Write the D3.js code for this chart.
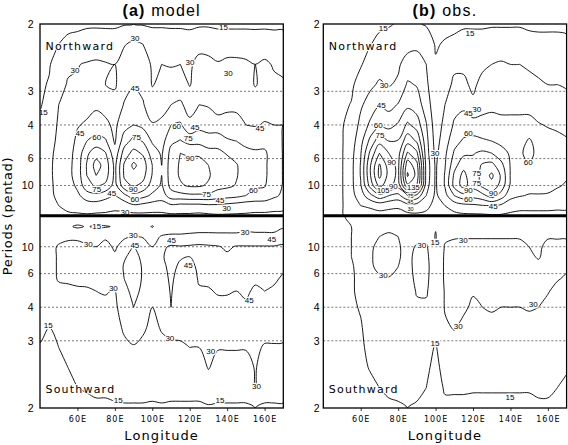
<!DOCTYPE html>
<html><head><meta charset="utf-8">
<script src="https://cdn.jsdelivr.net/npm/d3@7"></script>
<style>body{margin:0;background:#fff}svg{display:block}</style>
</head><body>
<svg id="c" width="568" height="445"></svg>
<script>
// ---------------- data ----------------
const lonCols = [40,45,50,55,60,65,70,75,80,85,90,95,100,105,110,115,120,125,130,135,140,145,150,155,160,165,170];
// frequencies (1/pentad) of grid rows, top to bottom inside each half
const fNorth = [0.5,0.45,0.4,0.35,0.3,0.25,0.21,0.18,0.15,0.125,0.1,0.075,0.05,0.025];
const fSouth = [0.025,0.05,0.075,0.1,0.125,0.15,0.18,0.21,0.25,0.3,0.35,0.4,0.45,0.5];
const levels = [15,30,45,60,75,90,105,120,135,150];
const periodTicks = [2,3,4,6,10];
const gridPeriods = [3,4,6,10];
const lonTicks = [60,80,100,120,140,160];

// one array per longitude column (values along fNorth / fSouth)
const modelNorth = [
[10,12,12,13,14,17,20,22,24,25,25,25,24,22],
[10,12,14,16,19,22,25,27,28,28,28,28,27,25],
[11,15,22,26,30,32,33,34,34,34,33,32,30,27],
[12,18,28,31,33,36,38,40,40,40,38,36,33,28],
[12,20,29.5,31,36,44,48,50,52,52,48,42,35,28],
[13,22,31,35,40,47,60,72,76,75,70,52,38,28],
[13,23,32,36,43,50,66,84,96,90,77,55,38,27],
[13,22,31,30,40,48,62,76,84,82,72,50,36,27],
[13,22,30,28,36,42,43,50,56,56,54,44,34,26],
[14,29,36,40,46,54,68,82,92,92,85,55,36,26],
[15,33,40,44,50,60,80,95,108,100,92,70,42,25],
[14,30,38,42,46,56,74,88,98,95,86,65,40,26],
[13,24,28,29,38,46,58,68,75,74,68,57,38,26],
[13,24,30,34,40,48,54,58,60,60,58,52,38,26],
[13,22,29,36,45,60,72,80,82,82,80,68,42,27],
[13,22,30,38,47,62,76,90,92,92,88,70,40,27],
[13,20,28,29,40,48,70,88,95,95,92,72,40,27],
[13,26,34,38,45,55,70,88,95,95,92,72,40,26],
[13,26,33,38,44,52,68,80,90,92,88,72,42,27],
[12,24,31,32,40,50,70,78,82,82,80,68,42,28],
[12,24,33,36,42,50,62,74,80,80,78,66,40,28],
[12,24,33,38,43,48,60,70,76,76,74,64,38,28],
[12,24,32,36,40,45,55,65,68,68,66,60,36,28],
[12,23,30,29,38,44,55,62,64,64,62,56,36,27],
[12,24,32,34,40,46,56,62,62,62,61,55,36,27],
[12,22,29,32,40,45,52,54,54,54,52,48,34,27],
[12,22,28,31,38,45,44,44,44,44,44,42,33,27]
];
const modelSouth = [
[24,24,25,26,26,27,27,26,24,18,14,12,10,9],
[25,25,26,27,27,27,26,24,20,15,12,10,9,9],
[26,22,27,31,31,31,31,27,22,17,15,11,9,9],
[26,17,28,33,35,34,32,27,24,19,16,15,12,10],
[26,13,28,33,36,35,33,28,24,20,18,17,15,11],
[27,16,27,31,36,36,34,28,25,22,20,18,16,12],
[27,13,26,30,32,32,31,30,29,24,22,20,17,13],
[27,14,28,34,36,36,34,31,27,24,22,20,17,13],
[27,16,25,28,32,38,34,29,27,25,23,20,17,14],
[26,20,28,36,44,46,45,42,38,32,27,22,18,14],
[26,24,31,45.5,48,50,50,48,45,36,29,24,18,14],
[25,22,29,38,43,44,44,43,40,32,27,22,18,14],
[25,14,26,30,34,36,36,34,30,27,24,21,17,14],
[26,22,31,42,44,42,40,38,35,31,27,22,18,14],
[26,24,32,47,48,48,47,46,45,33,28,22,17,14],
[26,24,32,46,46,43,40,38,36,34,28,22,17,14],
[26,24,33,47,45,42,40,38,36,34,30,22,17,14],
[26,24,34,48,48,47,46,44,38,35,30,22,17,14],
[26,24,34,47,48,48,47,44,40,35,33,31,20,14],
[26,25,33,46,47,48,47,46,42,36,31,24,18,14],
[26,25,33,43,47,48,48,46,42,35,31,24,18,14],
[26,25,33,46,48,48,47,45,42,35,31,24,18,14],
[26,26,34,46,48,48,47,46,44,36,31,24,18,14],
[26,26,33,46,48,48,46,44,42,36,32,31,31,15],
[26,26,33,46,48,47,45,45,38,34,29,24,18,14],
[26,26,33,46,48,47,46,44,40,34,29,24,18,14],
[26,28,38,47,48,46,44,40,36,33,29,24,18,14]
];
const obsNorth = [
[8,9,10,10,11,11,12,12,12,12,12,12,12,12],
[9,10,11,11,12,12,13,13,13,13,13,13,13,13],
[10,11,12,13,13,14,14,14,14,14,14,14,14,14],
[10,11,12,13,15.5,20,23,25,26,26,26,25,23,20],
[11,12,14,20,28,34,40,44,46,46,44,38,30,24],
[12,14.5,20,27,36,48,64,78,88,88,80,55,32,24],
[13,18,24,32,44,60,85,105,122,124,110,70,35,25],
[14,20,25,29,40,55,75,90,98,100,95,60,33,25],
[16,24,28,32,46,62,76,84,86,86,82,55,32,25],
[17,25,36,47,56,78,100,122,145,152,132,75,38,26],
[16,27,36,44,52,68,88,108,125,130,120,70,38,27],
[14,22,30,33,38,46,50,52,55,55,52,45,34,26],
[12,14,16,18,20,22,24,26,28,28,28,27,25,23],
[12,16,22,26,30,34,38,42,44,46,46,40,30,24],
[13,17,28,32,40,47,55,62,70,78,80,60,36,26],
[14,18,28,32,42,52,62,72,85,95,96,70,40,27],
[14,18,24,28,32,52,64,74,80,77,80,65,42,27],
[14,18,28,33,40,50,62,78,92,96,94,70,44,27],
[14,20,30,36,42,50,60,75,95,108,100,82,45,28],
[14,20,32,38,42,48,56,66,80,88,85,68,42,28],
[14,20,30,36,42,48,54,58,59,59,58,50,36,27],
[14,20,30,36,42,48,54,58,56,54,52,46,34,26],
[13,19,28,34,40,50,62,64,60,54,50,44,34,26],
[13,18,26,32,38,46,54,56,54,52,50,44,34,26],
[13,18,25,30,36,44,50,52,52,50,48,44,34,26],
[13,18,24,30,34,43,48,50,50,48,46,42,33,26],
[13,17,24,29,33,42,46,48,48,46,44,42,33,26]
];
const obsSouth = [
[12,11,10,10,10,10,10,10,10,10,10,9,9,9],
[13,12,11,11,11,11,11,11,11,10,10,10,9,9],
[14,13,12,12,12,12,12,12,12,12,11,11,10,10],
[17,15,15,15,15,14,14,14,13,13,12,12,11,10],
[20,18,18,18,18,18,17,17,16,14,13,13,12,11],
[22,24,27,28,28,28,26,24,22,20,18,15.5,13,11],
[24,26,30,33,35,33,28,27,24,22,20,18,15,12],
[24,27,32,35,36,35,29,27,24,22,20,19,17,13],
[25,27,30,31,31,30,27,25,23,22,21,19,17,14],
[26,26,26,27,27,26,25,24,23,22,21,20,18,15],
[26,26,27,31,33,34,33,31,28,25,22,20,17,14],
[26,25,26,32,34,35,34,32,27,22,19,17,15,12],
[22,16,14,16,18,19,19,19,18,17,14,12,11,11],
[26,26,28,31,32,32,32,31,31,28,22,19,16,13],
[27,27,29,33,35,35,35,35,33,31,24,20,16,13],
[27,28,29,34,36,36,36,35,32,27,24,20,16,13],
[27,28,29,34,36,36,36,31,28,26,23,20,16,12],
[27,28,29,34,36,37,36,33,30,26,23,20,16,12],
[27,28,29,34,36,38,36,34,31,27,23,20,16,12],
[27,28,29,34,35,35,35,33,30,27,23,20,16,12],
[27,28,29,34,35,35,35,33,30,27,23,20,16,12],
[27,28,29,33,34,35,34,32,30,26,23,20,16,12],
[27,28,29,30,32,34,34,33,31,26,23,20,16,12],
[27,28,29,28,29,33,33,32,30,26,23,20,17,13],
[27,28,29,33,34,34,33,30.5,28,25,22,20,17,13],
[27,28,29,33,34,33,30.5,28,26,24,21,18,15,13],
[27,28,29,33,33,31,29,27,25,22,19,16,13,11]
];

// contour labels: [longitude, frequency, text, font size]
const labelsModelNorth = [[41.8,0.282,"15"],[138,0.493,"15"],[58.7,0.386,"30"],[90.8,0.464,"30"],[120.1,0.406,"30"],[140.6,0.378,"30"],[85.4,0.034,"30"],[139.7,0.043,"30"],[90.8,0.34,"45"],[61.4,0.229,"45"],[122.8,0.245,"45"],[157.5,0.241,"45"],[78.3,0.08,"45"],[136.2,0.063,"45"],[70.3,0.22,"60"],[113,0.246,"60"],[90.7,0.065,"60"],[154,0.088,"60"],[91.6,0.22,"75"],[119.2,0.216,"75"],[70.3,0.092,"75"],[129,0.078,"75"],[120.1,0.167,"90"],[89.8,0.092,"90"]];
const labelsModelSouth = [[70.3,0.05,"15"],[44.4,0.294,"15"],[81.8,0.48,"15"],[136.2,0.48,"15"],[65.8,0.094,"30"],[89.8,0.071,"30"],[149.5,0.063,"30"],[79.2,0.203,"30"],[109.4,0.327,"30"],[131.2,0.36,"30"],[155.7,0.447,"30"],[90.7,0.096,"45"],[110.3,0.085,"45"],[119.2,0.145,"45"],[163.8,0.082,"45"],[151.8,0.233,"45"]];
const labelsObsNorth = [[72,0.489,"15"],[118.4,0.477,"15"],[72.5,0.349,"30"],[122,0.29,"30"],[99.7,0.179,"30"],[71,0.299,"45"],[117.5,0.278,"45"],[130.8,0.048,"45"],[69.4,0.249,"60"],[117.5,0.229,"60"],[149.5,0.158,"60"],[117.5,0.065,"60"],[70.3,0.225,"75"],[122,0.13,"75"],[122,0.106,"75"],[76.5,0.158,"90"],[77.4,0.098,"90"],[117.5,0.088,"90"],[130.8,0.082,"90"],[72,0.087,"105"],[88.1,0.096,"135"],[86.6,0.075,"75",5.5],[86.6,0.058,"45",5.5],[86.6,0.041,"30",5.5]];
const labelsObsSouth = [[92.6,0.096,"30"],[114.8,0.083,"30"],[72,0.17,"30"],[112.1,0.297,"30"],[152.2,0.243,"30"],[99.7,0.34,"15"],[99.7,0.088,"15"],[139.7,0.472,"15"]];

// ---------------- drawing ----------------
const svg = d3.select("#c");
const yN = d3.scaleLinear().domain([0.5,0.025]).range([24,215.8]);
const yS = d3.scaleLinear().domain([0.025,0.5]).range([216.5,408]);
const panels = [
  {id:"a", x0:40, x1:283.3, tag:"(a)", name:" model", north:modelNorth, south:modelSouth, ln:labelsModelNorth, ls:labelsModelSouth, tickX:33.5},
  {id:"b", x0:323.3, x1:566.6, tag:"(b)", name:" obs.", north:obsNorth, south:obsSouth, ln:labelsObsNorth, ls:labelsObsSouth, tickX:319.5}
];
const defs = svg.append("defs");
const lineGen = d3.line().curve(d3.curveCatmullRomClosed.alpha(0.5));
const colScale = d3.scaleLinear().domain(d3.range(lonCols.length)).range(lonCols);

function drawHalf(g, cols, fRows, x, y, clip, labels){
  const nx = cols.length, ny = fRows.length;
  const flat = new Array(nx*ny);
  for (let j=0;j<ny;j++) for (let i=0;i<nx;i++) flat[j*nx+i] = cols[i][j];
  const rowScale = d3.scaleLinear().domain(d3.range(ny)).range(fRows);
  const cs = d3.contours().size([nx,ny]).thresholds(levels)(flat);
  const cg = g.append("g").attr("clip-path", `url(#${clip})`);
  cs.forEach(c => c.coordinates.forEach(poly => poly.forEach(ring => {
    const pts = ring.slice(0,-1).map(([gx,gy]) => [x(colScale(gx-0.5)), y(rowScale(gy-0.5))]);
    if (pts.length < 3) return;
    cg.append("path").attr("d", lineGen(pts)).attr("fill","none")
      .attr("stroke","#000").attr("stroke-width",0.9);
  })));
  const lg = g.append("g").attr("clip-path", `url(#${clip})`);
  labels.forEach(([lon,f,t,fs]) => {
    lg.append("text").attr("x", x(lon)).attr("y", y(f)).attr("dy","0.35em")
      .attr("text-anchor","middle").attr("font-family","Liberation Sans, Arial, sans-serif")
      .attr("font-size", fs || (t.length>2?7.5:8)).attr("fill","#000")
      .attr("stroke","#fff").attr("stroke-width",fs?1.6:2.6).attr("paint-order","stroke")
      .text(t);
  });
}

panels.forEach(p => {
  const x = d3.scaleLinear().domain([40,170]).range([p.x0,p.x1]);
  const g = svg.append("g");
  defs.append("clipPath").attr("id",`cn${p.id}`).append("rect")
    .attr("x",p.x0).attr("y",24).attr("width",p.x1-p.x0).attr("height",215.8-24);
  defs.append("clipPath").attr("id",`cs${p.id}`).append("rect")
    .attr("x",p.x0).attr("y",215.8).attr("width",p.x1-p.x0).attr("height",408-215.8);

  // dashed period grid lines
  gridPeriods.forEach(per => {
    [yN(1/per), yS(1/per)].forEach(yy => {
      g.append("line").attr("x1",p.x0).attr("x2",p.x1).attr("y1",yy).attr("y2",yy)
        .attr("stroke","#555").attr("stroke-width",0.8).attr("stroke-dasharray","2,2");
    });
  });

  drawHalf(g, p.north, fNorth, x, yN, `cn${p.id}`, p.ln);
  drawHalf(g, p.south, fSouth, x, yS, `cs${p.id}`, p.ls);

  // direction labels
  [["Northward",49.5],["Southward",393]].forEach(([t,yy]) => {
    g.append("text").attr("x",p.x0+5.5).attr("y",yy).attr("font-family","DejaVu Sans, sans-serif")
      .attr("font-size",11).attr("letter-spacing",1.2).attr("fill","#000")
      .attr("stroke","#fff").attr("stroke-width",2).attr("paint-order","stroke").text(t);
  });

  // frame + divider
  g.append("rect").attr("x",p.x0).attr("y",24).attr("width",p.x1-p.x0).attr("height",408-24)
    .attr("fill","none").attr("stroke","#000").attr("stroke-width",1.3);
  g.append("line").attr("x1",p.x0).attr("x2",p.x1).attr("y1",215.8).attr("y2",215.8)
    .attr("stroke","#000").attr("stroke-width",3);

  // y tick labels (periods)
  periodTicks.forEach(per => {
    [yN(1/per), yS(1/per)].forEach(yy => {
      g.append("text").attr("x",p.tickX).attr("y",yy).attr("dy","0.36em").attr("text-anchor","end")
        .attr("font-family","Liberation Sans, Arial, sans-serif").attr("font-size",10.5).text(per);
    });
  });

  // x axis
  const ax = g.append("g").attr("transform","translate(0,408)")
    .call(d3.axisBottom(x).tickValues(lonTicks).tickFormat(d => d+"E").tickSize(3).tickPadding(5));
  ax.select(".domain").remove();
  ax.selectAll("line").attr("stroke","#000").attr("stroke-width",0.8);
  ax.selectAll("text").attr("font-family","DejaVu Sans, sans-serif").attr("font-size",8)
    .attr("letter-spacing",1).attr("fill","#000");

  // axis title
  g.append("text").attr("x",(p.x0+p.x1)/2).attr("y",440).attr("text-anchor","middle")
    .attr("font-family","DejaVu Sans, sans-serif").attr("font-size",13).attr("letter-spacing",1.1)
    .text("Longitude");

  // panel title
  const tt = g.append("text").attr("x",(p.x0+p.x1)/2).attr("y",16).attr("text-anchor","middle")
    .attr("font-family","Liberation Sans, Arial, sans-serif").attr("font-size",16).attr("letter-spacing",1.2);
  tt.append("tspan").attr("font-weight","bold").text(p.tag);
  tt.append("tspan").text(p.name);
});

svg.append("text").attr("transform","translate(12,216) rotate(-90)").attr("text-anchor","middle")
  .attr("font-family","DejaVu Sans, sans-serif").attr("font-size",13).attr("letter-spacing",0.7)
  .text("Periods (pentad)");
</script>
</body></html>
